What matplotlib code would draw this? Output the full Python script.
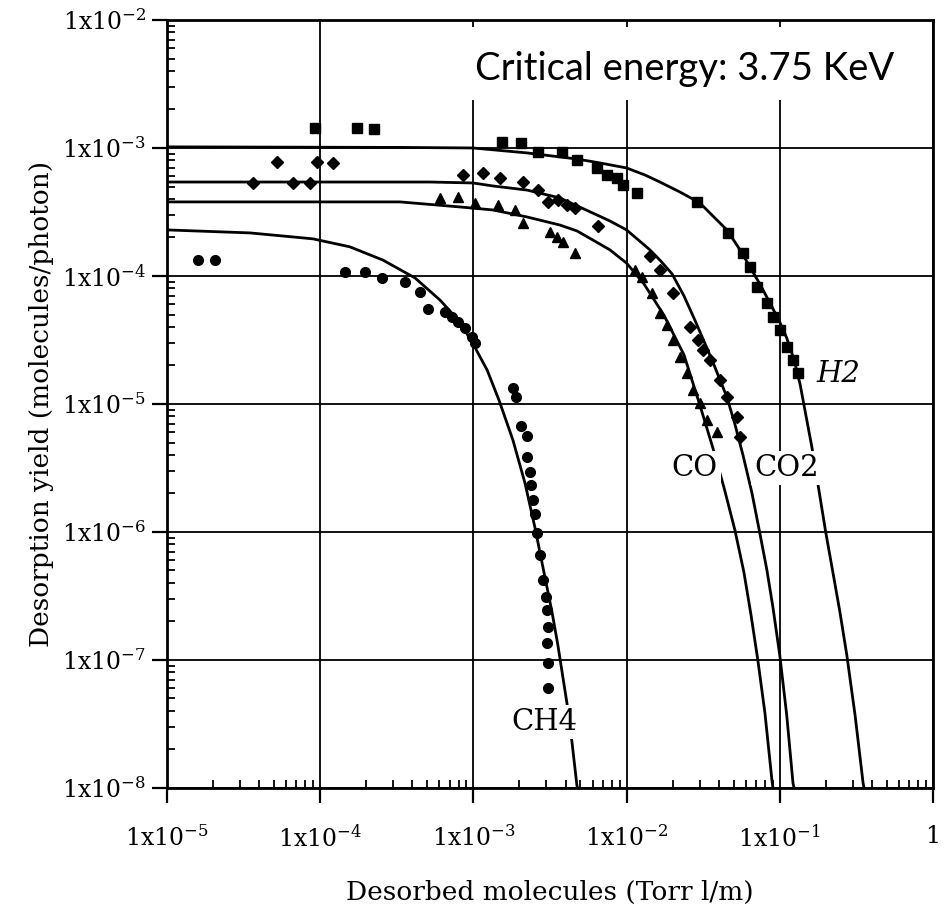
#!/usr/bin/env python3
"""Desorption yield vs desorbed molecules (H2, CO2, CO, CH4), log-log, with fitted curves."""
import matplotlib

matplotlib.use("Agg")
import matplotlib.pyplot as plt
from matplotlib.patches import Rectangle
from matplotlib.ticker import LogLocator, NullFormatter

# fitted curves
H2_FIT_X = [1e-5, 3.32e-4, 9.93e-4, 2.24e-3, 4.74e-3, 6.70e-3, 1.0e-2, 1.32e-2, 1.65e-2,
            2.23e-2, 3.01e-2, 3.66e-2, 4.52e-2, 5.50e-2, 6.38e-2, 7.41e-2, 8.63e-2, 0.100,
            0.111, 0.124, 0.136, 0.148, 0.162, 0.180, 0.200, 0.222, 0.247, 0.274, 0.310,
            0.350, 0.355]
H2_FIT_Y = [1.02e-3, 1.01e-3, 1.0e-3, 9.15e-4, 8.2e-4, 7.64e-4, 6.98e-4, 6.15e-4, 5.42e-4,
            4.53e-4, 3.72e-4, 2.94e-4, 2.29e-4, 1.60e-4, 1.18e-4, 8.66e-5, 6.15e-5, 4.37e-5,
            3.28e-5, 2.21e-5, 1.41e-5, 8.2e-6, 4.61e-6, 2.13e-6, 9.8e-7, 4.87e-7, 2.37e-7,
            1.09e-7, 3.72e-8, 1.09e-8, 1.0e-8]

CO2_FIT_X = [1e-5, 5.2e-4, 9.93e-4, 1.34e-3, 2.24e-3, 3.67e-3, 6.02e-3, 7.78e-3, 1.0e-2,
             1.42e-2, 1.67e-2, 1.98e-2, 2.37e-2, 2.79e-2, 3.61e-2, 4.52e-2, 5.09e-2, 5.75e-2,
             6.58e-2, 7.41e-2, 8.24e-2, 9.02e-2, 0.100, 0.111, 0.122, 0.124]
CO2_FIT_Y = [5.42e-4, 5.42e-4, 5.33e-4, 5.05e-4, 4.69e-4, 4.07e-4, 3.10e-4, 2.69e-4, 2.29e-4,
             1.60e-4, 1.31e-4, 1.04e-4, 6.98e-5, 4.53e-5, 2.21e-5, 1.13e-5, 6.98e-6, 4.0e-6,
             2.02e-6, 9.8e-7, 5.05e-7, 2.59e-7, 1.09e-7, 3.72e-8, 1.09e-8, 1.0e-8]

CO_FIT_X = [1e-5, 3.32e-4, 8.2e-4, 1.34e-3, 2.24e-3, 3.67e-3, 4.74e-3, 6.02e-3, 7.78e-3,
            1.0e-2, 1.30e-2, 1.75e-2, 2.37e-2, 3.01e-2, 3.66e-2, 4.33e-2, 5.09e-2, 5.83e-2,
            6.49e-2, 7.19e-2, 8.0e-2, 8.89e-2, 9.03e-2]
CO_FIT_Y = [3.79e-4, 3.79e-4, 3.46e-4, 3.28e-4, 2.89e-4, 2.50e-4, 2.25e-4, 1.91e-4, 1.60e-4,
            1.26e-4, 8.66e-5, 4.96e-5, 2.42e-5, 9.8e-6, 4.53e-6, 2.21e-6, 1.04e-6, 4.87e-7,
            2.25e-7, 1.0e-7, 3.86e-8, 1.15e-8, 1.0e-8]

CH4_FIT_X = [1e-5, 3.48e-5, 8.97e-5, 1.56e-4, 2.57e-4, 4.16e-4, 6.05e-4, 8.17e-4, 1.02e-3,
             1.23e-3, 1.47e-3, 1.81e-3, 2.17e-3, 2.52e-3, 2.93e-3, 3.26e-3, 3.56e-3, 4.08e-3,
             4.40e-3, 4.74e-3, 4.78e-3]
CH4_FIT_Y = [2.29e-4, 2.17e-4, 1.95e-4, 1.69e-4, 1.33e-4, 9.65e-5, 6.49e-5, 4.37e-5, 2.79e-5,
             1.84e-5, 1.07e-5, 5.24e-6, 2.42e-6, 1.09e-6, 4.45e-7, 2.37e-7, 1.31e-7, 4.61e-8,
             2.29e-8, 1.05e-8, 1.0e-8]

# measured points
H2_X = [9.25e-5, 1.74e-4, 2.24e-4, 1.54e-3, 2.05e-3, 2.64e-3, 3.78e-3, 4.74e-3, 6.41e-3,
        7.45e-3, 8.65e-3, 9.46e-3, 1.17e-2, 2.88e-2, 4.59e-2, 5.75e-2, 6.38e-2, 7.10e-2,
        8.24e-2, 9.02e-2, 0.100, 0.111, 0.122, 0.132]
H2_Y = [1.43e-3, 1.43e-3, 1.41e-3, 1.11e-3, 1.09e-3, 9.3e-4, 9.3e-4, 8.06e-4, 6.98e-4,
        6.15e-4, 5.83e-4, 5.14e-4, 4.45e-4, 3.79e-4, 2.17e-4, 1.51e-4, 1.18e-4, 8.2e-5,
        6.15e-5, 4.79e-5, 3.79e-5, 2.79e-5, 2.21e-5, 1.75e-5]

CO2_X = [3.64e-5, 5.22e-5, 6.64e-5, 8.57e-5, 9.53e-5, 1.21e-4, 8.55e-4, 1.16e-3, 1.49e-3,
         2.11e-3, 2.64e-3, 3.07e-3, 3.56e-3, 4.08e-3, 4.60e-3, 6.50e-3, 1.42e-2, 1.65e-2,
         2.01e-2, 2.59e-2, 2.92e-2, 3.15e-2, 3.50e-2, 4.06e-2, 4.52e-2, 5.25e-2, 5.50e-2]
CO2_Y = [5.33e-4, 7.78e-4, 5.33e-4, 5.33e-4, 7.78e-4, 7.64e-4, 6.15e-4, 6.38e-4, 5.83e-4,
         5.42e-4, 4.69e-4, 3.79e-4, 3.92e-4, 3.59e-4, 3.40e-4, 2.46e-4, 1.43e-4, 1.11e-4,
         7.36e-5, 4.0e-5, 3.16e-5, 2.64e-5, 2.21e-5, 1.54e-5, 1.13e-5, 7.91e-6, 5.52e-6]

CO_X = [6.05e-4, 7.92e-4, 1.02e-3, 1.44e-3, 1.87e-3, 2.11e-3, 3.16e-3, 3.52e-3, 3.85e-3,
        4.60e-3, 1.14e-2, 1.26e-2, 1.47e-2, 1.65e-2, 1.84e-2, 2.01e-2, 2.23e-2, 2.48e-2,
        2.71e-2, 3.01e-2, 3.35e-2, 3.89e-2]
CO_Y = [4.07e-4, 4.14e-4, 3.72e-4, 3.59e-4, 3.28e-4, 2.60e-4, 2.21e-4, 2.02e-4, 1.85e-4,
        1.51e-4, 1.11e-4, 9.8e-5, 7.36e-5, 5.14e-5, 4.14e-5, 3.16e-5, 2.33e-5, 1.75e-5,
        1.29e-5, 1.02e-5, 7.5e-6, 6.04e-6]

CH4_X = [1.59e-5, 2.06e-5, 1.45e-4, 1.96e-4, 2.53e-4, 3.57e-4, 4.48e-4, 5.06e-4, 6.53e-4,
         7.24e-4, 7.92e-4, 8.81e-4, 9.8e-4, 1.02e-3, 1.81e-3, 1.90e-3, 2.05e-3, 2.24e-3,
         2.24e-3, 2.34e-3, 2.38e-3, 2.45e-3, 2.52e-3, 2.60e-3, 2.72e-3, 2.84e-3, 2.98e-3,
         3.02e-3, 3.07e-3, 3.02e-3, 3.07e-3, 3.07e-3]
CH4_Y = [1.33e-4, 1.33e-4, 1.07e-4, 1.07e-4, 9.65e-5, 8.97e-5, 7.5e-5, 5.52e-5, 5.24e-5,
         4.79e-5, 4.37e-5, 3.93e-5, 3.34e-5, 3.0e-5, 1.33e-5, 1.13e-5, 6.73e-6, 5.62e-6,
         3.86e-6, 2.94e-6, 2.33e-6, 1.78e-6, 1.38e-6, 9.8e-7, 6.6e-7, 4.22e-7, 3.10e-7,
         2.46e-7, 1.81e-7, 1.36e-7, 9.5e-8, 6.04e-8]

X_TICKS = [1e-5, 1e-4, 1e-3, 1e-2, 1e-1, 1]
X_TICK_LABELS = [r"1x10$^{-5}$", r"1x10$^{-4}$", r"1x10$^{-3}$", r"1x10$^{-2}$",
                 r"1x10$^{-1}$", "1"]
Y_TICKS = [1e-8, 1e-7, 1e-6, 1e-5, 1e-4, 1e-3, 1e-2]
Y_TICK_LABELS = [r"1x10$^{-8}$", r"1x10$^{-7}$", r"1x10$^{-6}$", r"1x10$^{-5}$",
                 r"1x10$^{-4}$", r"1x10$^{-3}$", r"1x10$^{-2}$"]

# curve name labels: (text, x, y)
CURVE_LABELS = [("H2", 0.243, 1.71e-5), ("CO", 0.0279, 3.16e-6),
                ("CO2", 0.111, 3.16e-6), ("CH4", 2.93e-3, 3.28e-8)]


def main():
    plt.rcParams.update({"font.family": "DejaVu Serif", "mathtext.fontset": "dejavuserif"})
    fig = plt.figure(figsize=(9.44, 9.08), dpi=100)
    ax = fig.add_axes([0.1769, 0.1322, 0.8114, 0.8458])
    ax.set_xscale("log")
    ax.set_yscale("log")
    ax.set_xlim(1e-5, 1)
    ax.set_ylim(1e-8, 1e-2)

    ax.set_axisbelow(True)
    ax.grid(True, which="major", color="black", lw=1.3)

    for fx, fy in ((H2_FIT_X, H2_FIT_Y), (CO2_FIT_X, CO2_FIT_Y),
                   (CO_FIT_X, CO_FIT_Y), (CH4_FIT_X, CH4_FIT_Y)):
        ax.plot(fx, fy, "-", color="black", lw=2.0, zorder=3, solid_joinstyle="round")

    ax.plot(H2_X, H2_Y, "s", color="black", ms=7, zorder=4)
    ax.plot(CO2_X, CO2_Y, "D", color="black", ms=5.8, zorder=4)
    ax.plot(CO_X, CO_Y, "^", color="black", ms=7, zorder=4)
    ax.plot(CH4_X, CH4_Y, "o", color="black", ms=7, zorder=4)

    for name, tx, ty in CURVE_LABELS:
        ax.text(tx, ty, name, fontsize=21, ha="center", va="center", zorder=5,
                fontstyle="italic" if name == "H2" else "normal",
                bbox=dict(facecolor="white", edgecolor="none", pad=2))

    ax.add_patch(Rectangle((0.396, 0.896), 0.601, 0.095, transform=ax.transAxes,
                           facecolor="white", edgecolor="none", zorder=1))
    ax.text(0.402, 0.922, "Critical energy: 3.75 KeV", transform=ax.transAxes,
            family="Lato", fontsize=27.5, va="baseline", ha="left", zorder=5)

    ax.set_xticks(X_TICKS)
    ax.set_xticklabels(X_TICK_LABELS)
    ax.set_yticks(Y_TICKS)
    ax.set_yticklabels(Y_TICK_LABELS)
    ax.xaxis.set_minor_locator(LogLocator(base=10, subs=range(2, 10), numticks=20))
    ax.yaxis.set_minor_locator(LogLocator(base=10, subs=range(2, 10), numticks=20))
    ax.xaxis.set_minor_formatter(NullFormatter())
    ax.yaxis.set_minor_formatter(NullFormatter())
    ax.tick_params(which="major", direction="out", length=11, width=1.6, labelsize=17)
    ax.tick_params(axis="x", which="major", pad=16)
    ax.tick_params(axis="y", which="major", pad=4)
    ax.tick_params(which="minor", direction="in", length=6, width=1.3)
    for sp in ax.spines.values():
        sp.set_linewidth(2.0)

    ax.set_xlabel("Desorbed molecules (Torr l/m)", fontsize=19, labelpad=20)
    ax.set_ylabel("Desorption yield (molecules/photon)", fontsize=19, labelpad=6)

    fig.savefig("out.png", dpi=100)


if __name__ == "__main__":
    main()
